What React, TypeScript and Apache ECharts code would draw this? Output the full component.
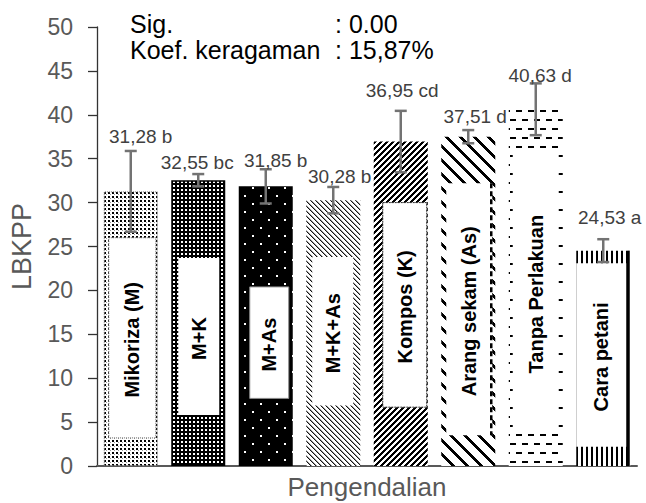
import React, { useEffect, useRef } from "react";
import * as echarts from "echarts";

// ---------- data ----------
const categories = [
  "Mikoriza (M)",
  "M+K",
  "M+As",
  "M+K+As",
  "Kompos (K)",
  "Arang sekam (As)",
  "Tanpa Perlakuan",
  "Cara petani",
];
const means = [31.28, 32.55, 31.85, 30.28, 36.95, 37.51, 40.63, 24.53];
const errors = [4.6, 0.7, 1.95, 1.5, 3.5, 0.75, 2.95, 1.3];
const letters = ["b", "bc", "b", "b", "cd", "d", "d", "a"];
const yMin = 0;
const yMax = 50;
const yStep = 5;
const statNames = ["Sig.", "Koef. keragaman"];
const statValues = [": 0.00", ": 15,87%"];
// extents (in axis units) of the white name panels inside each bar
const panelLow = [3.2, 5.8, 7.7, 6.9, 6.7, 3.5, 3.8, 2.2];
const panelHigh = [26.0, 23.7, 20.4, 23.8, 30.0, 32.2, 35.8, 23.1];

// ---------- styling ----------
const FONT = '"Liberation Sans", Arial, sans-serif';
const BAR_FRAC = 0.8;
const panelInsets = [
  [5, 2],
  [7, 6],
  [11, 4],
  [6, 7],
  [9, 1],
  [5, 3],
  [4, 4],
  [0, 4],
];
const panelBorders: any[] = [
  { stroke: "#666", lineWidth: 1, lineDash: [1, 1] },
  { stroke: null },
  { stroke: "#888", lineWidth: 1 },
  { stroke: null },
  { stroke: "#222", lineWidth: 1, lineDash: [2, 1] },
  { stroke: null },
  { stroke: null },
  { stroke: null },
];
const labelNudge = [
  [10, -14.7],
  [-1, -11.3],
  [10, -9.2],
  [6.5, -10.3],
  [1.5, -20.2],
  [7, -13.2],
  [4.5, -8.3],
  [6.5, -21.5],
];

type Ctx = CanvasRenderingContext2D;
function tile(w: number, h: number, bg: string, draw: (c: Ctx) => void) {
  const cv = document.createElement("canvas");
  cv.width = w;
  cv.height = h;
  const c = cv.getContext("2d") as Ctx;
  c.fillStyle = bg;
  c.fillRect(0, 0, w, h);
  c.fillStyle = "#000";
  draw(c);
  return {
    image: cv.toDataURL("image/png"),
    repeat: "repeat",
    imageWidth: w,
    imageHeight: h,
  };
}

function makePatterns() {
  return [
    tile(4, 4, "#fff", (c) => {
      c.fillRect(0, 0, 2, 2);
      c.fillStyle = "#999";
      c.fillRect(2, 2, 1, 1);
    }),
    tile(4, 4, "#000", (c) => {
      c.fillStyle = "#fff";
      c.fillRect(1, 1, 2, 2);
    }),
    tile(16, 16, "#000", (c) => {
      c.fillStyle = "#fff";
      c.fillRect(4, 3, 2, 2);
      c.fillRect(12, 11, 2, 2);
    }),
    tile(5, 5, "#fff", (c) => {
      for (let i = 0; i < 5; i++) {
        c.fillStyle = "#111";
        c.fillRect(i, i, 1, 1);
        c.fillStyle = "#999";
        c.fillRect((i + 1) % 5, i, 1, 1);
      }
    }),
    tile(6, 6, "#fff", (c) => {
      for (let i = 0; i < 6; i++)
        for (let k = 0; k < 3; k++) c.fillRect((5 - i + k + 6) % 6, i, 1, 1);
    }),
    tile(14, 14, "#fff", (c) => {
      for (let i = 0; i < 14; i++)
        for (let k = 0; k < 4; k++) c.fillRect((i + k) % 14, i, 1, 1);
    }),
    tile(12, 18, "#fff", (c) => {
      c.fillRect(0, 2, 6, 2);
      c.fillRect(6, 11, 6, 2);
    }),
    tile(5, 5, "#fff", (c) => {
      c.fillRect(1, 0, 2, 5);
    }),
  ];
}

const fmt = (v: number) => v.toFixed(2).replace(".", ",");

export default function App() {
  const ref = useRef<HTMLDivElement>(null);

  useEffect(() => {
    document.body.style.margin = "0";
    if (!ref.current) return;
    const chart = echarts.init(ref.current, undefined, { renderer: "svg" });
    const patterns = makePatterns();

    const barBorders: any[] = [
      { borderColor: "#777", borderWidth: 1, borderType: "dotted" },
      { borderColor: "#000", borderWidth: 1.5 },
      { borderWidth: 0 },
      { borderWidth: 0 },
      { borderWidth: 0 },
      { borderWidth: 0 },
      { borderWidth: 0 },
      { borderWidth: 0 },
    ];

    const option: any = {
      animation: false,
      grid: { left: 97, right: 9, top: 27, bottom: 37, outerBoundsMode: "none" },
      xAxis: {
        type: "category",
        data: categories,
        axisLabel: { show: false },
        axisTick: { show: false },
        axisLine: { show: true, lineStyle: { color: "#595959", width: 2 } },
        name: "Pengendalian",
        nameLocation: "middle",
        nameGap: 8,
        nameTextStyle: { fontSize: 26, color: "#595959", fontFamily: FONT },
      },
      yAxis: {
        type: "value",
        min: yMin,
        max: yMax,
        interval: yStep,
        splitLine: { show: false },
        axisLine: { show: true, lineStyle: { color: "#333", width: 1.3 } },
        axisTick: { show: true, length: 9, lineStyle: { color: "#333", width: 1.3 } },
        axisLabel: { fontSize: 23, color: "#595959", margin: 24, fontFamily: FONT },
        name: "LBKPP",
        nameLocation: "middle",
        nameRotate: 90,
        nameGap: 62,
        nameTextStyle: { fontSize: 27, color: "#595959", fontFamily: FONT },
      },
      graphic: statNames.flatMap((n, i) => [
        {
          type: "text",
          x: 130,
          y: 24 + i * 26,
          style: { text: n, font: `25px ${FONT}`, fill: "#000", verticalAlign: "middle" },
        },
        {
          type: "text",
          x: 335,
          y: 24 + i * 26,
          style: { text: statValues[i], font: `25px ${FONT}`, fill: "#000", verticalAlign: "middle" },
        },
      ]),
      series: [
        {
          type: "bar",
          barWidth: `${BAR_FRAC * 100}%`,
          z: 2,
          data: means.map((v, i) => ({
            value: v,
            itemStyle: { color: patterns[i], ...barBorders[i] },
          })),
        },
        {
          type: "custom",
          z: 3,
          data: categories.map((_, i) => [i, panelLow[i], panelHigh[i]]),
          encode: { x: 0, y: [1, 2] },
          renderItem: (params: any, api: any) => {
            const i = api.value(0) as number;
            const pLo = api.coord([i, api.value(1)]);
            const pHi = api.coord([i, api.value(2)]);
            const band = api.size([1, 0])[0];
            const bw = band * BAR_FRAC;
            const x0 = pLo[0] - bw / 2 + panelInsets[i][0];
            const x1 = pLo[0] + bw / 2 - panelInsets[i][1];
            const children: any[] = [
              {
                type: "rect",
                shape: { x: x0, y: pHi[1], width: x1 - x0, height: pLo[1] - pHi[1] },
                style: { fill: "#fff", ...panelBorders[i] },
              },
            ];
            if (i === 5) {
              children.push({
                type: "line",
                shape: { x1: x1 - 1, y1: pHi[1], x2: x1 - 1, y2: pLo[1] },
                style: { stroke: "#000", lineWidth: 2.5, lineDash: [5, 3] },
              });
            }
            if (i === 7) {
              const top = api.coord([i, means[i]]);
              const base = api.coord([i, 0]);
              const xr = pLo[0] + bw / 2 - 1.5;
              children.push({
                type: "line",
                shape: { x1: xr, y1: top[1], x2: xr, y2: base[1] },
                style: { stroke: "#000", lineWidth: 2 },
              });
            }
            children.push({
              type: "text",
              x: (x0 + x1) / 2,
              y: (pLo[1] + pHi[1]) / 2 + 2,
              rotation: Math.PI / 2,
              style: {
                text: categories[i],
                fill: "#000",
                font: `bold 20px ${FONT}`,
                align: "center",
                verticalAlign: "middle",
              },
            });
            return { type: "group", children };
          },
        },
        {
          type: "custom",
          z: 4,
          data: means.map((m, i) => [i, m - errors[i], m + errors[i]]),
          encode: { x: 0, y: [1, 2] },
          renderItem: (params: any, api: any) => {
            const i = api.value(0) as number;
            const lo = api.coord([i, api.value(1)]);
            const hi = api.coord([i, api.value(2)]);
            const cap = 6;
            const st = { stroke: "#737373", lineWidth: 2.5 };
            return {
              type: "group",
              children: [
                { type: "line", shape: { x1: lo[0], y1: lo[1], x2: hi[0], y2: hi[1] }, style: st },
                { type: "line", shape: { x1: lo[0] - cap, y1: lo[1], x2: lo[0] + cap, y2: lo[1] }, style: st },
                { type: "line", shape: { x1: hi[0] - cap, y1: hi[1], x2: hi[0] + cap, y2: hi[1] }, style: st },
                {
                  type: "text",
                  x: hi[0] + labelNudge[i][0],
                  y: hi[1] + labelNudge[i][1],
                  style: {
                    text: `${fmt(means[i])} ${letters[i]}`,
                    fill: "#404040",
                    font: `19px ${FONT}`,
                    align: "center",
                    verticalAlign: "middle",
                  },
                },
              ],
            };
          },
        },
      ],
    };

    chart.setOption(option);
    return () => chart.dispose();
  }, []);

  return <div ref={ref} style={{ width: 646, height: 503 }} />;
}
